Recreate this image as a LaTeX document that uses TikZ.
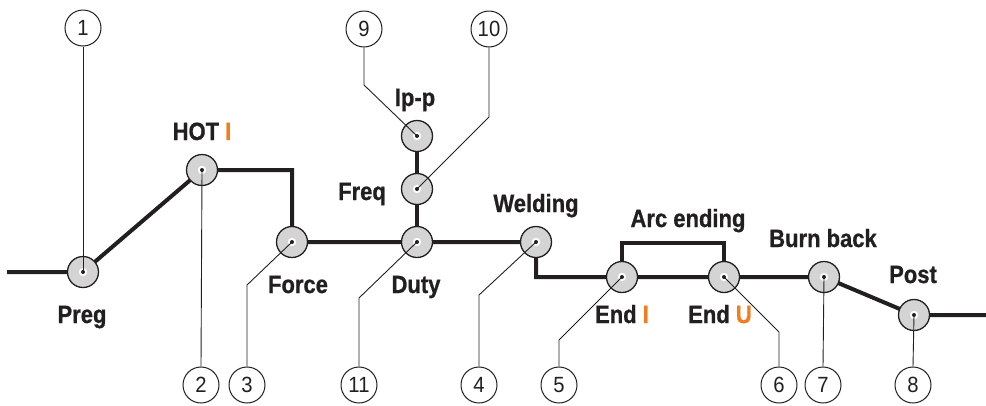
\documentclass[tikz,border=0pt]{standalone}
\usepackage{fontspec}
\setmainfont{Liberation Sans}
\newfontfamily\lblfont{Liberation Sans}[FakeStretch=0.88, BoldFeatures={FakeBold=0.8}]
\newfontfamily\numfont{Liberation Sans}[FakeStretch=0.92]
\usetikzlibrary{backgrounds}
\definecolor{ink}{HTML}{231F20}
\definecolor{disc}{HTML}{D4D4D4}
\definecolor{accent}{HTML}{F07D1E}
\tikzset{
  mainline/.style={line width=4pt, draw=ink, line join=miter},
  leader/.style={line width=0.9pt, draw=ink},
  stage/.style={circle, draw=ink, fill=disc, line width=1.3pt, minimum size=31pt, inner sep=0pt},
  numcirc/.style={circle, draw=ink, fill=white, line width=1pt, minimum size=36pt, inner sep=0pt,
    font=\numfont\fontsize{22}{24}\selectfont, text=ink},
  lbl/.style={anchor=base, inner sep=0pt, text=ink, font=\lblfont\bfseries\fontsize{25}{28}\selectfont},
}
\newcommand{\hl}[1]{\textcolor{accent}{#1}}
\begin{document}
\begin{tikzpicture}[x=1pt,y=-1pt]
\useasboundingbox (0,0) rectangle (986,405);
% stage discs
\node[stage] (preg) at (83,272) {};
\node[stage] (hot) at (202,170) {};
\node[stage] (force) at (292,242) {};
\node[stage] (duty) at (417,242) {};
\node[stage] (freq) at (417,189) {};
\node[stage] (ipp) at (417,136) {};
\node[stage] (weld) at (536,242) {};
\node[stage] (endi) at (622,277) {};
\node[stage] (endu) at (724,277) {};
\node[stage] (burn) at (824,277) {};
\node[stage] (post) at (914,315) {};
\coordinate (lstart) at (7,272);
\coordinate (rend) at (986,315);
% main path
\begin{pgfonlayer}{background}
\draw[mainline] (lstart) -- (preg.center) -- (hot.center) -| (force.center) -- (duty.center) -- (weld.center) |- (endi.center) -- (endu.center) -- (burn.center) -- (post.center) -- (rend);
\draw[mainline] (endi.center) -- ++(0,-34) -| (endu.center);
\draw[mainline] (duty.center) -- (ipp.center);
\end{pgfonlayer}
% white dots
\foreach \n in {preg,hot,force,duty,freq,ipp,weld,endi,endu,burn,post}
  \fill[white] (\n.center) circle (4.2pt);
% number circles
\node[numcirc] (n1) at (83,28) {1};
\node[numcirc] (n2) at (201,385) {2};
\node[numcirc] (n3) at (247,385) {3};
\node[numcirc] (n11) at (359,385) {11};
\node[numcirc] (n4) at (479,385) {4};
\node[numcirc] (n5) at (559,385) {5};
\node[numcirc] (n6) at (779,385) {6};
\node[numcirc] (n7) at (823,385) {7};
\node[numcirc] (n8) at (913,385) {8};
\node[numcirc] (n9) at (364,29) {9};
\node[numcirc] (n10) at (489,29) {10};
% leaders
\draw[leader] (n1.south) -- (preg.center);
\draw[leader] (n2.north) -- (hot.center);
\draw[leader] (n3.north) -- (247,285) -- (force.center);
\draw[leader] (n11.north) -- (359,298) -- (duty.center);
\draw[leader] (n4.north) -- (479,295) -- (weld.center);
\draw[leader] (n5.north) -- (559,340) -- (endi.center);
\draw[leader] (n6.north) -- (779,332) -- (endu.center);
\draw[leader] (n7.north) -- (burn.center);
\draw[leader] (n8.north) -- (post.center);
\draw[leader] (n9.south) -- (364,85) -- (ipp.center);
\draw[leader] (n10.south) -- (489,117) -- (freq.center);
% black dots
\foreach \n in {preg,hot,force,duty,freq,ipp,weld,endi,endu,burn,post}
  \fill[ink] (\n.center) circle (2pt);
% labels
\node[lbl] (tpreg) at (82,323) {Preg};
\node[lbl] (thot) at (202,140) {HOT \hl{I}};
\node[lbl] (tforce) at (298,293) {Force};
\node[lbl] (tduty) at (416,293) {Duty};
\node[lbl] (tfreq) at (362,200) {Freq};
\node[lbl] (tipp) at (415,106) {Ip-p};
\node[lbl] (tweld) at (536,212) {Welding};
\node[lbl] (tarc) at (688,227) {Arc ending};
\node[lbl] (tendi) at (622,323) {End \hl{I}};
\node[lbl] (tendu) at (720,323) {End \hl{U}};
\node[lbl] (tburn) at (823,247) {Burn back};
\node[lbl] (tpost) at (913,283) {Post};
\end{tikzpicture}
\end{document}
